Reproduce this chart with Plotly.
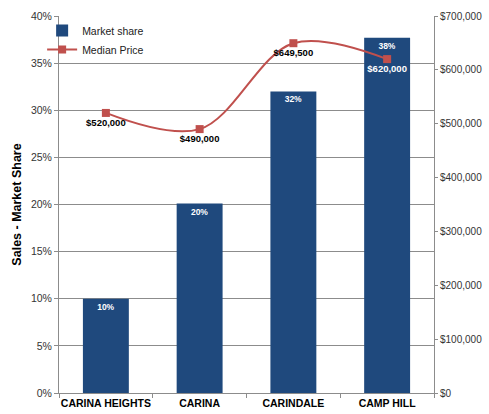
import plotly.graph_objects as go

suburbs = ["CARINA HEIGHTS", "CARINA", "CARINDALE", "CAMP HILL"]
market_share = [10, 20.1, 32, 37.7]
median_price = [520000, 490000, 649500, 620000]
price_labels = ["$520,000", "$490,000", "$649,500", "$620,000"]
price_label_colors = ["black", "black", "black", "white"]

BLUE = "#1F497D"
RED = "#C0504D"
GRID = "#8C8C8C"
FONT = "Liberation Sans"

fig = go.Figure()
fig.add_trace(go.Bar(
    x=suburbs, y=market_share, name="Market share",
    marker=dict(color=BLUE, line=dict(width=0)),
    width=0.49,
    texttemplate="<b>%{y:.0f}%</b>", textposition="inside",
    insidetextanchor="end",
    textfont=dict(color="white", size=8.5, family=FONT),
    yaxis="y",
))
fig.add_trace(go.Scatter(
    x=suburbs, y=median_price, name="Median Price",
    mode="lines+markers+text",
    line=dict(color=RED, width=2, shape="spline", smoothing=1.0),
    marker=dict(symbol="square", size=8, color=RED),
    text=price_labels, texttemplate="<b>%{text}</b>",
    textposition="bottom center",
    textfont=dict(color=price_label_colors, size=9.5, family=FONT),
    yaxis="y2",
))

fig.update_layout(
    width=489, height=414,
    margin=dict(l=59, r=55, t=16, b=21),
    paper_bgcolor="white", plot_bgcolor="white",
    font=dict(family=FONT, size=10.5, color="#333333"),
    showlegend=True,
    legend=dict(x=-0.045, y=1.0, xanchor="left", yanchor="top",
                bgcolor="rgba(0,0,0,0)", font=dict(size=10.5, color="#222"),
                tracegroupgap=2, itemwidth=30),
    xaxis=dict(
        showgrid=False, showline=True, linecolor=GRID, linewidth=1,
        ticks="outside", tickson="boundaries", ticklen=4, tickcolor=GRID,
        tickfont=dict(size=10.5, color="black", family=FONT),
        tickprefix="<b>", ticksuffix="</b>", tickangle=0, automargin=False,
    ),
    yaxis=dict(
        range=[0, 40], dtick=5, ticksuffix="%",
        showgrid=True, gridcolor=GRID, gridwidth=1,
        showline=True, linecolor=GRID, linewidth=1,
        ticks="outside", ticklen=4, tickcolor=GRID,
        title=dict(text="<b>Sales - Market Share</b>", font=dict(size=12.5, color="black"), standoff=6),
        zeroline=False, automargin=False,
    ),
    yaxis2=dict(
        range=[0, 700000], dtick=100000, tickprefix="$", tickformat=",d",
        overlaying="y", side="right", showgrid=False,
        showline=True, linecolor=GRID, linewidth=1,
        ticks="outside", ticklen=3, tickcolor=GRID,
        tickfont=dict(size=10, family=FONT), ticklabelstandoff=0,
        zeroline=False, automargin=False,
    ),
)

# remove the default page margin so the figure fills the window exactly
fig.write_html(
    "out.html",
    config={"displayModeBar": False},
    post_script="document.body.style.margin='0';document.body.style.overflow='hidden';",
)
